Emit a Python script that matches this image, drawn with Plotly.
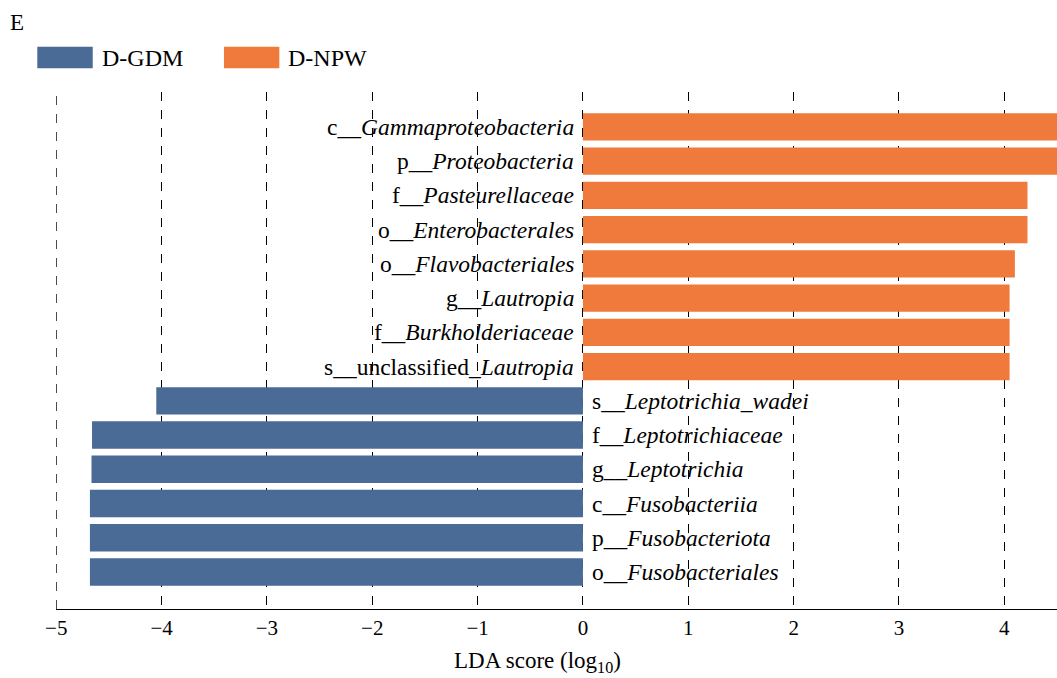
import plotly.graph_objects as go

# Data (top to bottom)
prefixes = ["c__", "p__", "f__", "o__", "o__", "g__", "f__", "s__unclassified_",
            "s__", "f__", "g__", "c__", "p__", "o__"]
taxa = ["Gammaproteobacteria", "Proteobacteria", "Pasteurellaceae", "Enterobacterales",
        "Flavobacteriales", "Lautropia", "Burkholderiaceae", "Lautropia",
        "Leptotrichia_wadei", "Leptotrichiaceae", "Leptotrichia", "Fusobacteriia",
        "Fusobacteriota", "Fusobacteriales"]
lda_scores = [4.70, 4.62, 4.22, 4.22, 4.10, 4.05, 4.05, 4.05,
              -4.05, -4.66, -4.665, -4.68, -4.68, -4.68]
groups = ["D-NPW"] * 8 + ["D-GDM"] * 6
group_colors = {"D-GDM": "#4A6B95", "D-NPW": "#F07A3B"}
x_ticks = [-5, -4, -3, -2, -1, 0, 1, 2, 3, 4]

FONT = "Liberation Serif, Times New Roman, serif"

positions = list(range(len(taxa)))

fig = go.Figure()
for g in ["D-GDM", "D-NPW"]:
    idx = [i for i, gg in enumerate(groups) if gg == g]
    fig.add_trace(go.Bar(
        x=[lda_scores[i] for i in idx],
        y=[positions[i] for i in idx],
        orientation="h",
        width=0.8,
        marker=dict(color=group_colors[g], line=dict(width=0)),
        name=g,
        showlegend=False,
    ))

annotations = []
for i, (p, t, v) in enumerate(zip(prefixes, taxa, lda_scores)):
    txt = f"{p}<i>{t}</i>"
    annotations.append(dict(
        x=0, y=positions[i], xref="x", yref="y",
        text=txt, showarrow=False,
        xanchor="right" if v > 0 else "left",
        xshift=-7 if v > 0 else 7,
        yanchor="middle",
        font=dict(family=FONT, size=23.5, color="black"),
    ))

# Panel letter
annotations.append(dict(x=-0.048, y=1.134, xref="paper", yref="paper", text="E",
                        showarrow=False, xanchor="left", yanchor="middle",
                        font=dict(family=FONT, size=23, color="black")))
# Legend texts
annotations.append(dict(x=0.044, y=1.0667, xref="paper", yref="paper", text="D-GDM",
                        showarrow=False, xanchor="left", yanchor="middle",
                        font=dict(family=FONT, size=24, color="black")))
annotations.append(dict(x=0.2295, y=1.0667, xref="paper", yref="paper", text="D-NPW",
                        showarrow=False, xanchor="left", yanchor="middle",
                        font=dict(family=FONT, size=24, color="black")))
# Axis title
annotations.append(dict(x=0.4815, y=-0.1025, xref="paper", yref="paper",
                        text="LDA score (log<sub>10</sub>)",
                        showarrow=False, xanchor="center", yanchor="middle",
                        font=dict(family=FONT, size=23, color="black")))

shapes = [
    dict(type="rect", xref="paper", yref="paper", x0=-0.0187, x1=0.0367,
         y0=1.0458, y1=1.0876, fillcolor=group_colors["D-GDM"], line=dict(width=0)),
    dict(type="rect", xref="paper", yref="paper", x0=0.1678, x1=0.2231,
         y0=1.0458, y1=1.0876, fillcolor=group_colors["D-NPW"], line=dict(width=0)),
    # left-edge gridline (at the -5 tick), hidden by plotly at the plot boundary
    dict(type="line", xref="x", yref="paper", x0=x_ticks[0], x1=x_ticks[0], y0=0, y1=1,
         line=dict(color="black", width=1, dash="dash"), layer="below"),
]

fig.update_layout(
    width=1057, height=678,
    margin=dict(l=56, r=0, t=92, b=69),
    plot_bgcolor="white", paper_bgcolor="white",
    barmode="overlay",
    annotations=annotations,
    shapes=shapes,
    xaxis=dict(
        range=[-5.002, 4.5],
        tickvals=x_ticks,
        ticks="",
        showgrid=True, gridcolor="black", griddash="dash", gridwidth=1,
        zeroline=False,
        showline=True, linecolor="black", linewidth=1.2,
        tickfont=dict(family=FONT, size=21, color="black"),
        layer="below traces",
    ),
    yaxis=dict(
        range=[14.08, -1.02],
        showticklabels=False, ticks="", showgrid=False, zeroline=False,
        showline=False,
    ),
    font=dict(family=FONT, color="black"),
)

fig.write_html("out.html")
